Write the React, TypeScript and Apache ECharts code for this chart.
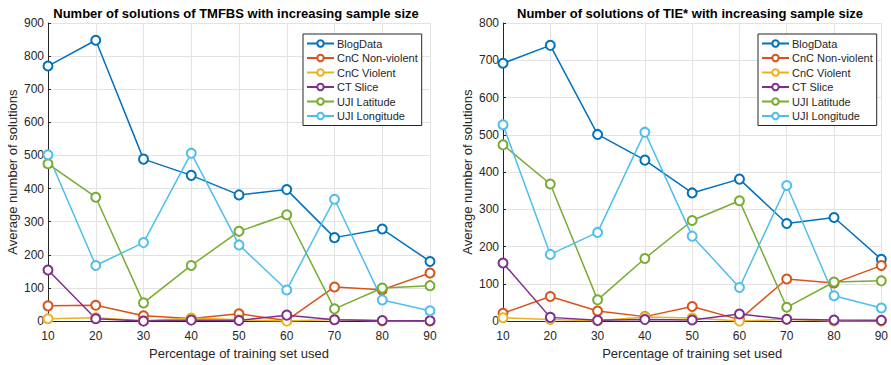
import { useEffect, useRef } from "react";
import * as echarts from "echarts";

const xValues = [10, 20, 30, 40, 50, 60, 70, 80, 90];
const seriesNames = ["BlogData", "CnC Non-violent", "CnC Violent", "CT Slice", "UJI Latitude", "UJI Longitude"];
const colors = ["#0072BD", "#D95319", "#EDB120", "#7E2F8E", "#77AC30", "#4DBEEE"];

// TMFBS (left)
const tmfbsBlogData = [770, 848, 489, 440, 381, 397, 252, 278, 180];
const tmfbsCncNonViolent = [46, 48, 16, 8, 22, 2, 103, 95, 145];
const tmfbsCncViolent = [7, 10, 1, 9, 4, 0, 5, 0, 0];
const tmfbsCtSlice = [154, 7, 0, 3, 2, 18, 4, 2, 1];
const tmfbsUjiLatitude = [475, 374, 55, 168, 271, 321, 37, 100, 107];
const tmfbsUjiLongitude = [502, 168, 237, 507, 230, 94, 368, 64, 31];

// TIE* (right)
const tieBlogData = [692, 740, 501, 432, 344, 381, 262, 278, 166];
const tieCncNonViolent = [21, 66, 27, 12, 39, 4, 113, 102, 149];
const tieCncViolent = [9, 4, 1, 11, 8, 0, 5, 0, 0];
const tieCtSlice = [156, 10, 2, 4, 3, 19, 5, 3, 2];
const tieUjiLatitude = [473, 368, 57, 168, 270, 323, 37, 105, 108];
const tieUjiLongitude = [527, 179, 238, 507, 228, 90, 364, 68, 35];

const leftData = [tmfbsBlogData, tmfbsCncNonViolent, tmfbsCncViolent, tmfbsCtSlice, tmfbsUjiLatitude, tmfbsUjiLongitude];
const rightData = [tieBlogData, tieCncNonViolent, tieCncViolent, tieCtSlice, tieUjiLatitude, tieUjiLongitude];

const leftTitle = "Number of solutions of TMFBS with increasing sample size";
const rightTitle = "Number of solutions of TIE* with increasing sample size";
const xName = "Percentage of training set used";
const yName = "Average number of solutions";

const FONT = "Liberation Sans, Arial, Helvetica, sans-serif";
const TEXT = "#262626";
const GRIDLINE = "#e3e3e3";

function makeXAxis(gridIndex: number) {
  return {
    type: "value",
    gridIndex,
    min: 10,
    max: 90,
    interval: 10,
    name: xName,
    nameLocation: "middle",
    nameGap: 25,
    nameTextStyle: { fontFamily: FONT, fontSize: 13, color: TEXT },
    axisLine: { show: true, onZero: false, lineStyle: { color: TEXT, width: 1 } },
    axisTick: { show: true, inside: true, length: 3, lineStyle: { color: TEXT } },
    axisLabel: { fontFamily: FONT, fontSize: 12, color: TEXT, margin: 9 },
    splitLine: { show: true, lineStyle: { color: GRIDLINE, width: 1 } },
  };
}

function makeYAxis(gridIndex: number, max: number) {
  return {
    type: "value",
    gridIndex,
    min: 0,
    max,
    interval: 100,
    name: yName,
    nameLocation: "middle",
    nameGap: 29,
    nameTextStyle: { fontFamily: FONT, fontSize: 13, color: TEXT },
    axisLine: { show: true, lineStyle: { color: TEXT, width: 1 } },
    axisTick: { show: true, inside: true, length: 3, lineStyle: { color: TEXT } },
    axisLabel: { fontFamily: FONT, fontSize: 12, color: TEXT, margin: 4 },
    splitLine: { show: true, lineStyle: { color: GRIDLINE, width: 1 } },
  };
}

function makeSeries(data: number[][], axisIndex: number) {
  return data.map((vals, i) => ({
    type: "line",
    name: seriesNames[i],
    xAxisIndex: axisIndex,
    yAxisIndex: axisIndex,
    data: vals.map((v, j) => [xValues[j], v]),
    symbol: "emptyCircle",
    symbolSize: 9,
    showSymbol: true,
    color: colors[i],
    lineStyle: { color: colors[i], width: 1.5 },
    itemStyle: { color: colors[i], borderColor: colors[i], borderWidth: 1.5 },
    emphasis: { disabled: true },
  }));
}

function makeLegend(left: number) {
  return {
    show: true,
    orient: "vertical",
    left,
    top: 34,
    data: seriesNames,
    backgroundColor: "#ffffff",
    borderColor: "#262626",
    borderWidth: 1,
    padding: [4, 4, 4, 3],
    itemWidth: 27,
    itemHeight: 8,
    itemGap: 3.5,
    textStyle: { fontFamily: FONT, fontSize: 11, color: TEXT, lineHeight: 11, padding: [0, 0, 0, -2] },
    selectedMode: false,
  };
}

export default function App() {
  const ref = useRef<HTMLDivElement>(null);
  useEffect(() => {
    if (!ref.current) return;
    const chart = echarts.init(ref.current, null, { renderer: "svg" });
    chart.setOption({
      animation: false,
      backgroundColor: "#ffffff",
      grid: [
        { left: 48, top: 23, width: 382, height: 300 },
        { left: 503, top: 23, width: 381, height: 301 },
      ],
      xAxis: [makeXAxis(0), makeXAxis(1)],
      yAxis: [makeYAxis(0, 900), makeYAxis(1, 800)],
      legend: [makeLegend(303), makeLegend(758)],
      graphic: [
        {
          type: "text",
          x: 236,
          y: 13,
          style: { text: leftTitle, font: `bold 13px ${FONT}`, fill: "#000", align: "center", verticalAlign: "middle" },
        },
        {
          type: "text",
          x: 690,
          y: 13,
          style: { text: rightTitle, font: `bold 13px ${FONT}`, fill: "#000", align: "center", verticalAlign: "middle" },
        },
      ],
      series: [...makeSeries(leftData, 0), ...makeSeries(rightData, 1)],
    });
    return () => chart.dispose();
  }, []);
  return (
    <div
      ref={ref}
      style={{ position: "absolute", left: 0, top: 0, width: 891, height: 365 }}
    />
  );
}
